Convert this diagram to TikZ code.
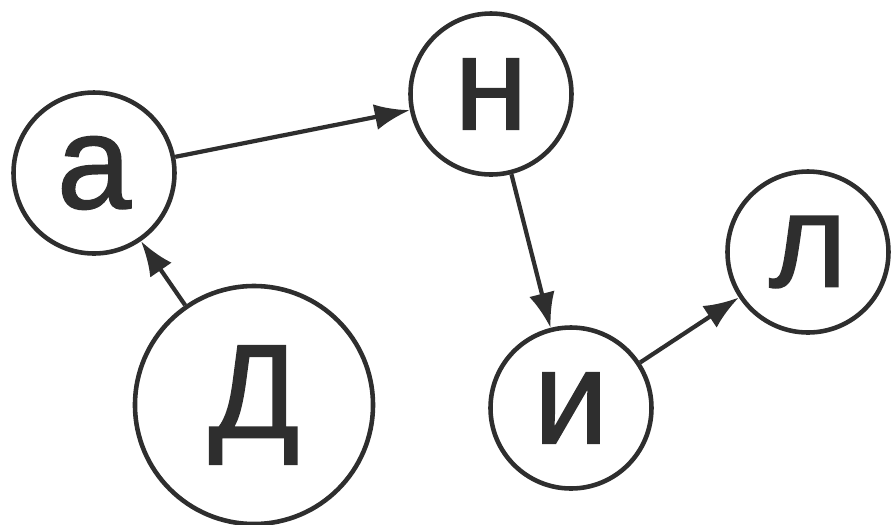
\documentclass[tikz,border=0pt]{standalone}
\usepackage{fontspec}
\setmainfont{Liberation Sans}
\newfontfamily\letterfont[FakeBold=1.2]{Liberation Sans}
\usetikzlibrary{arrows.meta}
\definecolor{inkgray}{HTML}{2E2E2E}
\begin{document}
\begin{tikzpicture}[
  letter/.style={circle, draw=inkgray, line width=1.3pt, inner sep=0pt, minimum size=1.61cm, text=inkgray, font=\letterfont\fontsize{38}{40}\selectfont},
  bigletter/.style={letter, minimum size=2.38cm},
  link/.style={draw=inkgray, line width=1.2pt, -{Latex[length=3.5mm,width=2.6mm]}}
]
\useasboundingbox (0,0) rectangle (8.91,5.24);
% letters
\node[letter] (a) at (0.94,3.51) {а};
\node[letter] (n) at (4.91,4.30) {н};
\node[bigletter] (d) at (2.54,1.19) {Д};
\node[letter] (i) at (5.71,1.16) {и};
\node[letter] (l) at (8.08,2.72) {л};

% links
\draw[link] (d) -- (a);
\draw[link] (a) -- (n);
\draw[link] (n) -- (i);
\draw[link] (i) -- (l);
\end{tikzpicture}
\end{document}
